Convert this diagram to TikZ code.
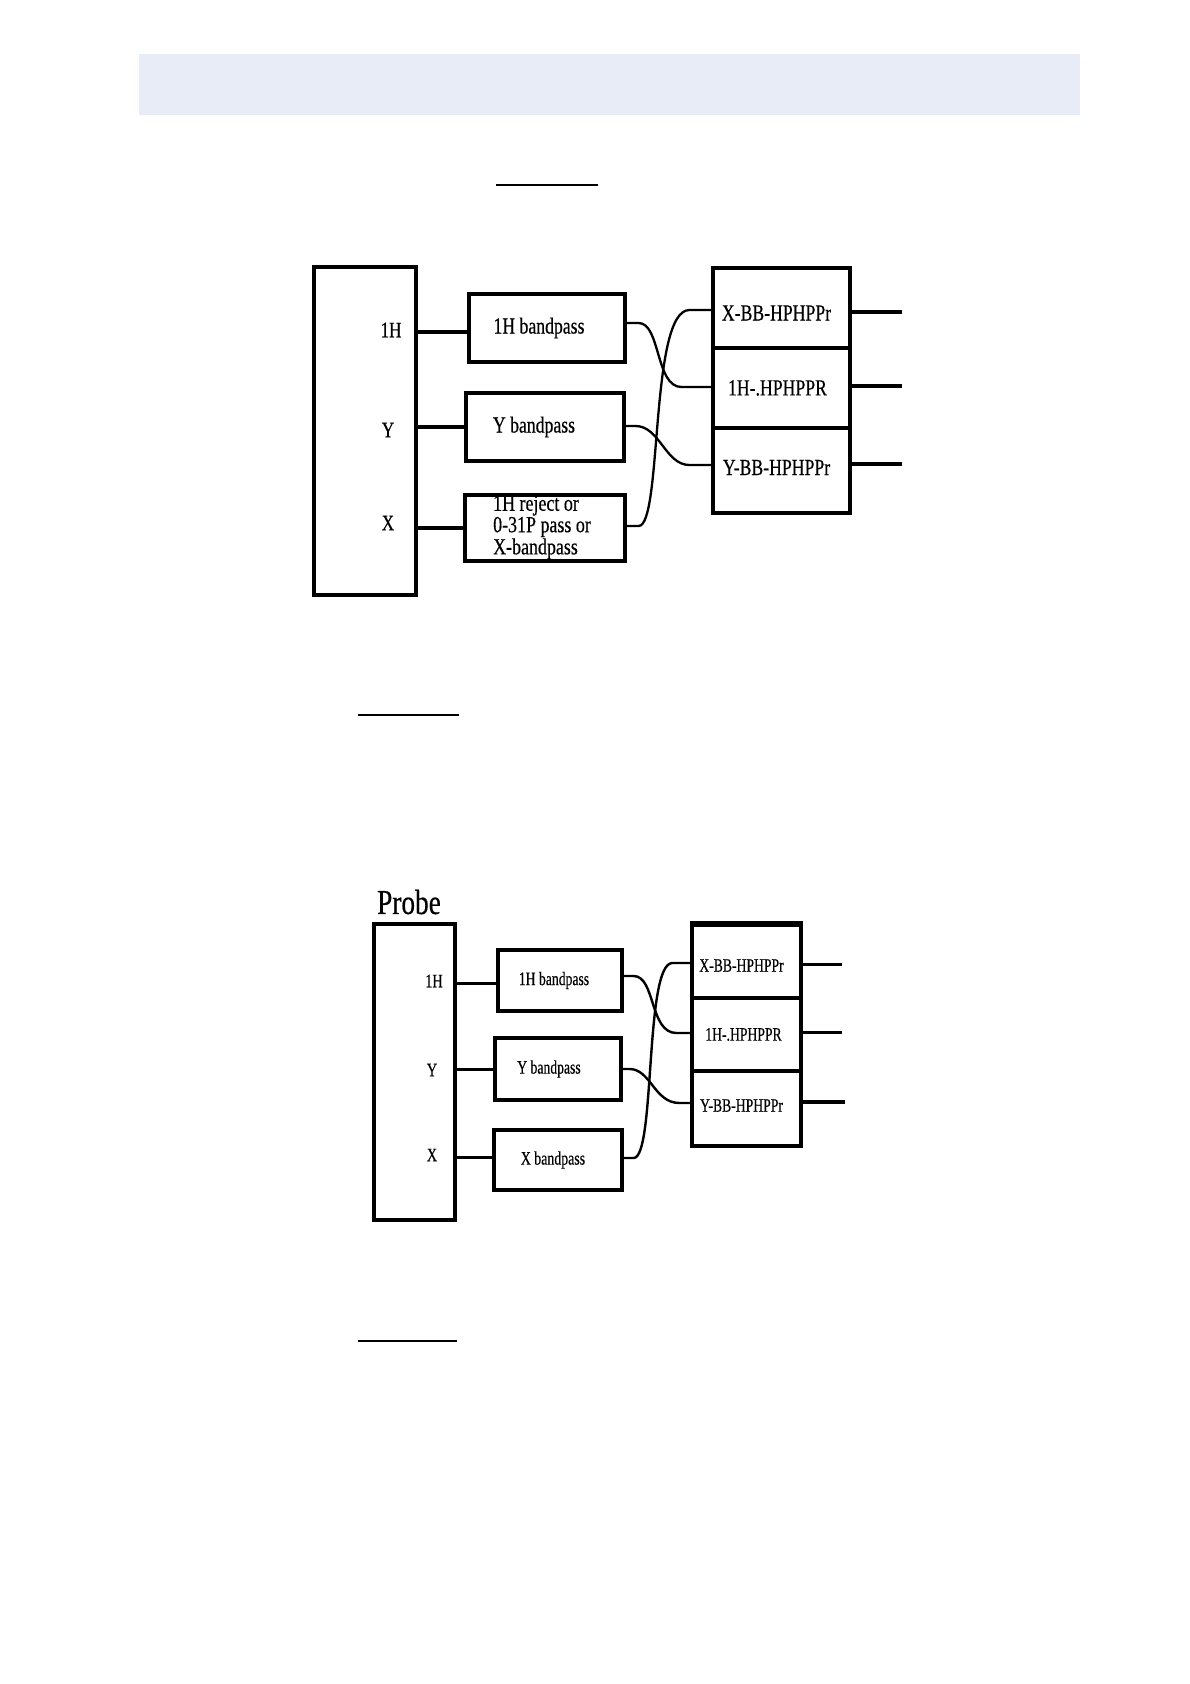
\documentclass[tikz,border=0pt]{standalone}
\usepackage{fontspec}
\setmainfont{Liberation Serif}[FakeBold=0.5]
\usepackage{graphicx}
\newcommand{\sqz}[2]{\scalebox{#1}[1]{#2}}
\newcommand{\mvtext}[3]{\raisebox{#2}[\height][\depth]{\hspace*{#1}#3\hspace*{-#1}}}
\definecolor{bannerblue}{RGB}{232,236,246}
\begin{document}
\begin{tikzpicture}[x=1pt,y=-1pt,
  frameA/.style={draw, line width=3.2pt, inner sep=0pt, font=\fontsize{23}{20.5}\selectfont},
  frameB/.style={draw, line width=3.2pt, inner sep=0pt, font=\fontsize{19}{19}\selectfont},
  labA/.style={inner sep=0pt, font=\fontsize{22}{22}\selectfont},
  labB/.style={inner sep=0pt, font=\fontsize{19}{19}\selectfont},
  wireA/.style={line width=2.3pt},
  wireB/.style={line width=2.4pt},
  leadA/.style={line width=3.1pt},
  leadB/.style={line width=3pt},
  rule/.style={line width=2.2pt}]
\useasboundingbox (0,0) rectangle (1190,1684);
\fill[white] (0,0) rectangle (1190,1684);
% banner
\fill[bannerblue] (139,54) rectangle (1080,115);
% underlines
\draw[rule] (496,185) -- (598,185);
\draw[rule] (358,715) -- (459,715);
\draw[rule] (358,1341) -- (457,1341);

% ---------------- diagram 1 ----------------
\node[frameA, minimum width=102pt, minimum height=328pt] (pA) at (365,431) {};
\node[labA] (lA1) at (391,330) {\sqz{0.78}{1H}};
\node[labA] (lA2) at (388,430) {\sqz{0.78}{Y}};
\node[labA] (lA3) at (388,523) {\sqz{0.78}{X}};
\node[frameA, minimum width=156pt, minimum height=68pt] (fA1) at (547,328) {\mvtext{-8pt}{0pt}{\sqz{0.77}{1H bandpass}}};
\node[frameA, minimum width=158pt, minimum height=68pt] (fA2) at (545,427) {\mvtext{-11pt}{0pt}{\sqz{0.77}{Y bandpass}}};
\node[frameA, minimum width=160pt, minimum height=66pt] (fA3) at (545,528)
  {\mvtext{-3pt}{0pt}{\sqz{0.78}{\begin{tabular}{@{}l@{}}1H reject or\\0-31P pass or\\X-bandpass\end{tabular}}}};
\node[frameA, minimum width=137pt, minimum height=80pt] (rA1) at (781.5,308) {\mvtext{-5pt}{-5pt}{\sqz{0.77}{X-BB-HPHPPr}}};
\node[frameA, minimum width=137pt, minimum height=80pt] (rA2) at (781.5,388) {\mvtext{-4pt}{0pt}{\sqz{0.77}{1H-.HPHPPR}}};
\node[frameA, minimum width=137pt, minimum height=85pt] (rA3) at (781.5,470.5) {\mvtext{-5pt}{3pt}{\sqz{0.77}{Y-BB-HPHPPr}}};
\coordinate (oA1) at (902,312);
\coordinate (oA2) at (902,386);
\coordinate (oA3) at (902,464);

\draw[leadA] ([yshift=-4pt]pA.east |- fA1.west) -- ([yshift=-4pt]fA1.west);
\draw[leadA] (pA.east |- fA2.west) -- (fA2.west);
\draw[leadA] (pA.east |- fA3.west) -- (fA3.west);

\draw[wireA] ([yshift=5pt]fA1.east) -- ++(12,0) .. controls +(22,0) and +(-26,0) .. ([xshift=-30pt,yshift=1pt]rA2.west) -- ([yshift=1pt]rA2.west);
\draw[wireA] ([yshift=1pt]fA2.east) -- ++(10,0) .. controls +(24,0) and +(-24,0) .. ([xshift=-22pt,yshift=5.5pt]rA3.west) -- ([yshift=5.5pt]rA3.west);
\draw[wireA] ([yshift=2pt]fA3.east) -- ++(12,0) .. controls +(24,0) and +(-40,0) .. ([xshift=-22pt,yshift=-2pt]rA1.west) -- ([yshift=-2pt]rA1.west);

\draw[leadA] (oA1 -| rA1.east) -- (oA1);
\draw[leadA] (oA2 -| rA2.east) -- (oA2);
\draw[leadA] (oA3 -| rA3.east) -- (oA3);

% ---------------- diagram 2 ----------------
\node[inner sep=0pt, font=\fontsize{35}{35}\selectfont] (probe) at (409,902) {\sqz{0.78}{Probe}};
\node[frameB, minimum width=81pt, minimum height=296pt] (pB) at (414.5,1072) {};
\node[labB] (lB1) at (434,981) {\sqz{0.75}{1H}};
\node[labB] (lB2) at (432,1070) {\sqz{0.75}{Y}};
\node[labB] (lB3) at (432,1155) {\sqz{0.75}{X}};
\node[frameB, minimum width=124pt, minimum height=61pt] (fB1) at (560,980.5) {\mvtext{-6pt}{0pt}{\sqz{0.72}{1H bandpass}}};
\node[frameB, minimum width=126pt, minimum height=62pt] (fB2) at (558,1069) {\mvtext{-9pt}{0pt}{\sqz{0.72}{Y bandpass}}};
\node[frameB, minimum width=128pt, minimum height=60pt] (fB3) at (558,1160) {\mvtext{-5pt}{0pt}{\sqz{0.73}{X bandpass}}};
\node[frameB, minimum width=109pt, minimum height=73pt] (rB1) at (746.5,961.5) {\mvtext{-5pt}{-4pt}{\sqz{0.72}{X-BB-HPHPPr}}};
\node[frameB, minimum width=109pt, minimum height=73pt] (rB2) at (746.5,1034.5) {\mvtext{-3pt}{0pt}{\sqz{0.72}{1H-.HPHPPR}}};
\node[frameB, minimum width=109pt, minimum height=75pt] (rB3) at (746.5,1108.5) {\mvtext{-5pt}{3pt}{\sqz{0.72}{Y-BB-HPHPPr}}};
\draw[line width=4.5pt] (rB1.north west) -- (rB1.north east);
\coordinate (oB1) at (842,964);
\coordinate (oB2) at (842,1032);
\coordinate (oB3) at (845,1102);

\draw[leadB] ([yshift=-3pt]pB.east |- fB1.west) -- ([yshift=-3pt]fB1.west);
\draw[leadB] (pB.east |- fB2.west) -- (fB2.west);
\draw[leadB] ([yshift=3pt]pB.east |- fB3.west) -- ([yshift=3pt]fB3.west);

\draw[wireB] ([yshift=4.5pt]fB1.east) -- ++(10,0) .. controls +(22,0) and +(-27,0) .. ([xshift=-14pt,yshift=1.5pt]rB2.west) -- ([yshift=1.5pt]rB2.west);
\draw[wireB] ([yshift=0pt]fB2.east) -- ++(7,0) .. controls +(21,0) and +(-25,0) .. ([xshift=-11pt,yshift=5.5pt]rB3.west) -- ([yshift=5.5pt]rB3.west);
\draw[wireB] ([yshift=2pt]fB3.east) -- ++(10,0) .. controls +(22,0) and +(-28,0) .. ([xshift=-18pt,yshift=-1.5pt]rB1.west) -- ([yshift=-1.5pt]rB1.west);

\draw[leadB] (oB1 -| rB1.east) -- (oB1);
\draw[leadB] (oB2 -| rB2.east) -- (oB2);
\draw[line width=4.5pt] (oB3 -| rB3.east) -- (oB3);
\end{tikzpicture}
\end{document}
